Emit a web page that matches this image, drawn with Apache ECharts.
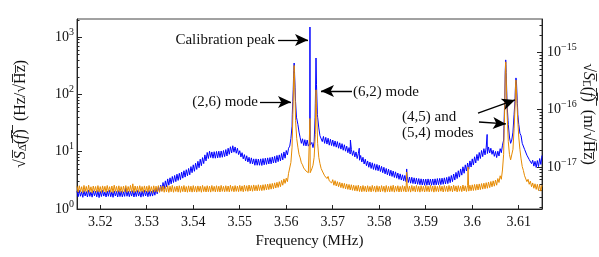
<!DOCTYPE html>
<html><head><meta charset="utf-8">
<script src="https://cdn.jsdelivr.net/npm/echarts@6/dist/echarts.min.js"></script>
<style>html,body{margin:0;padding:0;background:#fff}#c{width:599px;height:257px}</style>
</head><body><div id="c"></div>
<script>
// ---- data ----
const f0 = 3.515, df = 0.00025;          // base frequency grid (MHz)
const blueBase = [
2.05,1.64,2.12,1.67,2.0,1.6,2.1,1.69,2.02,1.62,2.14,1.66,1.98,1.61,2.08,1.7,2.04,1.63,2.1,1.58,
2.03,1.65,2.11,1.68,1.99,1.62,2.06,1.67,2.12,1.64,2.0,1.6,2.07,1.69,2.02,1.62,2.1,1.65,2.05,1.63,
2.0,1.66,2.35,1.67,2.06,1.64,2.02,1.68,2.09,1.62,2.04,1.65,2.1,1.68,2.01,1.61,2.07,1.66,2.12,1.69,
2.05,1.64,2.1,1.67,2.04,1.68,2.16,1.74,2.28,1.84,2.45,2.0,2.6,2.1,2.9,2.25,3.1,2.45,3.35,2.6,
3.5,2.75,3.7,2.9,3.85,3.0,4.05,3.15,4.2,3.25,4.4,3.45,4.65,3.6,4.85,3.8,5.1,3.95,5.5,4.3,
5.9,4.55,6.3,4.9,6.8,5.25,7.4,5.7,7.9,6.2,8.8,6.9,9.7,7.6,10.2,7.9,9.9,7.7,10.0,7.7,
10.1,7.8,10.2,7.9,10.3,8.0,10.5,8.2,10.9,8.4,11.5,9.0,12.2,9.5,12.7,9.8,12.1,9.4,11.5,8.9,
10.4,8.1,9.6,7.5,8.9,6.9,8.5,6.6,8.0,6.2,7.8,6.1,7.5,5.8,7.5,5.8,7.45,5.8,7.5,5.75,
7.6,5.9,7.7,6.0,7.8,6.1,7.9,6.15,8.1,6.35,8.3,6.4,8.6,6.7,8.8,6.9,9.3,7.2,9.9,7.7,
10.5,8.8,11.5,12.5,17,28,120,290,75,42,30,22,17.5,14,16.8,12.8,16.2,12.6,16.0,12.5,
13.5,12.2,14.5,11.8,15,70,150,40,26,19,19.5,15,18.5,14,17.8,13.6,17.2,13,16.5,12.8,
16.0,12.4,15.4,12.0,15.0,11.5,14.3,11.1,13.8,10.6,13.2,10.2,12.5,9.6,11.8,9.1,11.0,8.6,10.4,8.1,
9.9,7.6,9.3,7.1,8.6,6.6,8.0,6.1,7.4,5.7,6.9,5.35,6.6,5.1,6.4,4.9,6.15,4.75,6.0,4.65,
5.8,4.5,5.55,4.3,5.35,4.1,5.1,3.95,4.95,3.8,4.75,3.7,4.6,3.55,4.45,3.45,4.25,3.3,4.1,3.2,
3.95,3.1,3.85,3.0,3.75,2.9,3.62,2.82,3.58,2.78,3.5,2.73,3.45,2.7,3.4,2.65,3.36,2.62,3.33,2.6,
3.33,2.6,3.35,2.62,3.32,2.6,3.34,2.61,3.36,2.63,3.4,2.65,3.42,2.66,3.45,2.7,3.5,2.73,3.56,2.77,
3.68,2.88,3.85,3.0,4.08,3.2,4.35,3.4,4.65,3.6,5.0,3.9,5.45,4.2,5.9,4.6,6.35,4.95,6.9,5.4,
7.5,5.85,8.15,6.35,8.95,7.0,9.7,7.6,10.5,8.2,11.3,8.8,11.9,9.3,12.1,9.5,11.5,9.0,10.6,8.3,
10.1,7.9,10.2,8.4,11.3,9.6,13,16,90,330,65,30,18,14,16,22,45,110,170,60,
30,21,19,14,14.2,11,11.1,8.7,9.2,7.3,7.9,6.2,7.1,5.6,6.8,5.3,7.0,5.5,7.6,6.0,
8.6];
const orangeBase = [
2.5,1.96,2.55,2.0,2.45,1.93,2.58,2.02,2.48,1.95,2.6,1.98,2.44,1.92,2.52,2.03,2.47,1.96,2.56,1.99,
2.46,1.94,2.53,2.01,2.49,1.95,2.57,2.0,2.45,1.97,2.52,1.93,2.6,2.02,2.48,1.96,2.54,1.99,2.46,1.94,
2.51,2.0,2.56,1.95,2.47,2.01,2.58,1.97,2.75,1.94,2.52,2.0,2.49,1.96,2.55,2.02,2.47,1.95,2.53,1.99,
2.49,1.96,2.57,2.01,2.46,1.94,2.54,2.0,2.5,1.97,2.56,1.95,2.48,2.02,2.53,1.96,2.47,1.99,2.55,1.95,
2.5,2.0,2.58,1.96,2.46,2.02,2.52,1.97,2.55,1.95,2.49,2.01,2.57,1.98,2.47,1.96,2.54,2.0,2.5,1.97,
2.56,2.0,2.48,1.97,2.53,2.02,2.5,1.96,2.58,2.01,2.47,1.98,2.55,2.0,2.5,1.97,2.57,2.03,2.49,1.99,
2.55,2.01,2.5,1.98,2.58,2.03,2.49,2.0,2.55,2.02,2.52,1.99,2.6,2.04,2.5,2.0,2.56,2.03,2.52,2.01,
2.58,2.04,2.53,2.0,2.6,2.05,2.55,2.03,2.62,2.06,2.56,2.04,2.63,2.08,2.58,2.07,2.65,2.1,2.6,2.09,
2.65,2.12,2.68,2.15,2.72,2.18,2.76,2.22,2.8,2.26,2.86,2.32,2.92,2.38,3.0,2.45,3.15,2.6,3.35,2.8,
3.45,3.0,4.2,3.9,6.5,12,80,240,35,17,12,9,7.8,6.4,5.9,5.2,5.3,4.6,4.8,4.3,
4.5,4.4,5.0,5.8,8.0,20,60,14,8.0,6.2,5.1,4.6,4.4,3.8,4.0,3.4,3.7,3.1,3.3,2.85,
3.25,2.6,3.12,2.52,3.0,2.45,2.92,2.36,2.85,2.3,2.8,2.24,2.74,2.2,2.68,2.15,2.65,2.12,2.6,2.08,
2.56,2.05,2.6,2.02,2.52,2.0,2.57,2.03,2.5,1.98,2.55,2.02,2.48,1.99,2.58,2.04,2.5,1.97,2.55,2.01,
2.49,1.98,2.56,2.03,2.5,1.96,2.57,2.01,2.48,1.99,2.54,2.02,2.6,1.97,2.5,2.03,2.55,1.98,2.48,2.0,
2.56,2.03,2.5,1.98,2.62,2.02,2.52,1.97,2.57,2.04,2.5,1.99,2.58,2.02,2.49,1.97,2.55,2.03,2.5,1.98,
2.57,2.02,2.5,1.99,2.6,2.03,2.52,1.97,2.55,2.02,2.49,2.0,2.58,2.04,2.5,1.98,2.56,2.03,2.51,2.0,
2.57,2.04,2.52,2.0,2.6,2.05,2.53,1.99,2.56,2.04,2.5,2.01,2.62,2.06,2.54,2.02,2.58,2.05,2.6,2.08,
2.64,2.1,2.68,2.12,2.7,2.15,2.74,2.18,2.78,2.22,2.82,2.26,2.88,2.3,2.95,2.36,3.02,2.44,3.1,2.5,
3.2,2.6,3.4,2.9,3.8,3.3,4.8,9,70,290,45,15,9,7.2,7.5,11,25,75,120,40,
18,11,7.5,5.5,4.7,3.8,3.7,3.0,3.3,2.7,3.05,2.45,2.85,2.3,2.75,2.2,2.7,2.1,2.65,2.05,
2.6];
// narrow peaks / spikes between grid points: [frequency MHz, value]
const bluePeaks = [
[3.5613,45],[3.5614,75],[3.5616,260],[3.5617,353],[3.5618,220],[3.5619,130],[3.5622,40],
[3.56505,14],[3.5651,1500],[3.56515,13],
[3.5662,40],[3.5663,110],[3.5664,432],[3.5667,45],
[3.5738,16],[3.5757,11.5],[3.5859,5.0],[3.6032,20],
[3.6068,25],[3.6071,260],[3.6072,400],[3.6073,240],[3.6077,35],
[3.6092,80],[3.6093,140],[3.6094,194],[3.6097,70],[3.6098,45]];
const orangePeaks = [
[3.5616,200],[3.5617,320],[3.5618,170],[3.5619,90],
[3.56505,4.4],[3.5651,38],[3.56515,4.3],
[3.5663,45],[3.5664,120],[3.5859,4.4],[3.5991,5.4],
[3.6071,220],[3.6072,370],[3.6073,200],[3.6093,130],[3.6094,178]];

const xTicks = [3.52,3.53,3.54,3.55,3.56,3.57,3.58,3.59,3.60,3.61];
const leftMajor = [1,10,100,1000];
const leftMinor = [2,3,4,5,6,7,8,9,20,30,40,50,60,70,80,90,200,300,400,500,600,700,800,900,2000];
const rightMajor = [1e-17,1e-16,1e-15];
const rightMinor = [2e-18,3e-18,4e-18,5e-18,6e-18,7e-18,8e-18,9e-18,2e-17,3e-17,4e-17,5e-17,6e-17,7e-17,8e-17,9e-17,2e-16,3e-16,4e-16,5e-16,6e-16,7e-16,8e-16,9e-16,2e-15,3e-15];
const xRange = [3.515, 3.615];
const leftRange = [1, 2070];
const rightPerLeft = 1.85e-18;   // m/sqrt(Hz) per Hz/sqrt(Hz)

// annotation arrows in data coordinates [from, to]
const arrows = [
  [[3.55823, 890], [3.56468, 890]],
  [[3.55435, 73.7], [3.56102, 73.7]],
  [[3.57414, 114.7], [3.56747, 114.7]],
  [[3.60124, 47.3], [3.60919, 79.9]],
  [[3.60145, 33], [3.60725, 30.5]]
];
const labels = [
  {text:'Calibration peak', x:275, y:40, align:'right'},
  {text:'(2,6) mode', x:258, y:102, align:'right'},
  {text:'(6,2) mode', x:353, y:92, align:'left'},
  {text:'(4,5) and', x:402, y:117, align:'left'},
  {text:'(5,4) modes', x:402, y:133, align:'left'}
];

function build(base, peaks) {
  const pts = base.map((v, i) => [+(f0 + i * df).toFixed(5), v]);
  return pts.concat(peaks).sort((a, b) => a[0] - b[0]);
}

const serif = '"Liberation Serif", "DejaVu Serif", serif';
const tickRich = {
  b: {fontSize: 14, fontFamily: serif, color: '#111', lineHeight: 20},
  s: {fontSize: 10, fontFamily: serif, color: '#111', lineHeight: 10, verticalAlign: 'top'}
};
function powLabel(v) {
  const e = Math.round(Math.log10(v));
  return '{b|10}{s|' + (e < 0 ? '\u2212' + (-e) : e) + '}';
}
const nameRich = {
  n: {fontSize: 16, fontFamily: serif, color: '#111', lineHeight: 16},
  i: {fontSize: 16, fontFamily: serif, fontStyle: 'italic', color: '#111', lineHeight: 16},
  d: {fontSize: 11, fontFamily: serif, color: '#111', lineHeight: 12, verticalAlign: 'bottom'}
};
const OL = '\u0305';
const ol = s => s.split('').map(c => c + OL).join('');

const axisCommon = {
  type: 'log', logBase: 10,
  splitLine: {show: false},
  nameMoveOverlap: false,
  axisLine: {show: true, lineStyle: {color: '#222', width: 1}}
};

const chart = echarts.init(document.getElementById('c'));
chart.setOption({
  animation: false,
  grid: {left: 77, right: 57, top: 19, bottom: 48, show: true, borderColor: '#444', borderWidth: 1,
    containLabel: false, outerBoundsMode: 'none'},
  xAxis: {
    type: 'value', min: xRange[0], max: xRange[1],
    splitLine: {show: false},
    axisLine: {lineStyle: {color: '#222'}},
    axisTick: {inside: true, length: 4, customValues: xTicks, lineStyle: {color: '#222'}},
    axisLabel: {customValues: xTicks, margin: 6, fontSize: 14, fontFamily: serif, color: '#111',
      formatter: v => String(+v.toFixed(2))},
    name: 'Frequency (MHz)', nameLocation: 'middle', nameGap: 25,
    nameTextStyle: {fontSize: 15, fontFamily: serif, color: '#111'}
  },
  yAxis: [
    Object.assign({}, axisCommon, {
      position: 'left', min: leftRange[0], max: leftRange[1],
      axisTick: {inside: true, length: 5, customValues: leftMajor, lineStyle: {color: '#222'}},
      axisLabel: {customValues: leftMajor, margin: 3, formatter: powLabel, rich: tickRich},
      name: '{n|√}{i|' + ol('S') + '}{d|' + ol('Δ') + '}{n|' + ol('(') + '}{i|' + ol('f') + '}{n|' + ol(')') + '  (Hz/√' + ol('Hz') + ')}',
      nameLocation: 'middle', nameGap: 48, nameRotate: 90,
      nameTextStyle: {rich: nameRich}
    }),
    Object.assign({}, axisCommon, {
      position: 'left', min: leftRange[0], max: leftRange[1],
      axisLine: {show: false},
      axisTick: {inside: true, length: 2.5, customValues: leftMinor, lineStyle: {color: '#222'}},
      axisLabel: {show: false}
    }),
    Object.assign({}, axisCommon, {
      position: 'right', min: leftRange[0] * rightPerLeft, max: leftRange[1] * rightPerLeft,
      axisTick: {inside: true, length: 5, customValues: rightMajor, lineStyle: {color: '#222'}},
      axisLabel: {customValues: rightMajor, margin: 5, formatter: powLabel, rich: tickRich},
      name: '{n|√}{i|' + ol('S') + '}{d|' + ol('L') + '}{n|' + ol('(') + '}{i|' + ol('f') + '}{n|' + ol(')') + '  (m/√' + ol('Hz') + ')}',
      nameLocation: 'middle', nameGap: 38, nameRotate: -90,
      nameTextStyle: {rich: nameRich}
    }),
    Object.assign({}, axisCommon, {
      position: 'right', min: leftRange[0] * rightPerLeft, max: leftRange[1] * rightPerLeft,
      axisLine: {show: false},
      axisTick: {inside: true, length: 2.5, customValues: rightMinor, lineStyle: {color: '#222'}},
      axisLabel: {show: false}
    })
  ],
  series: [
    {type: 'line', name: 'blue', yAxisIndex: 0, data: build(blueBase, bluePeaks),
      showSymbol: false, symbol: 'none', lineStyle: {color: '#0000ff', width: 1}, silent: true, z: 2},
    {type: 'line', name: 'orange', yAxisIndex: 0, data: build(orangeBase, orangePeaks),
      showSymbol: false, symbol: 'none', lineStyle: {color: '#e68a00', width: 1}, silent: true, z: 3,
      markLine: {
        silent: true, symbol: ['none', 'arrow'], symbolSize: 12,
        lineStyle: {color: '#000', width: 1.3, type: 'solid'}, label: {show: false},
        itemStyle: {color: '#000'},
        animation: false,
        data: arrows.map(a => [{coord: a[0]}, {coord: a[1], symbolSize: [9, 13]}])
      }}
  ],
  graphic: labels.map(l => ({
    type: 'text', x: l.x, y: l.y, silent: true, z: 100,
    style: {text: l.text, font: '15px ' + serif, fill: '#111',
      align: l.align, textAlign: l.align, verticalAlign: 'middle', textVerticalAlign: 'middle'}
  }))
});
</script>
</body></html>
